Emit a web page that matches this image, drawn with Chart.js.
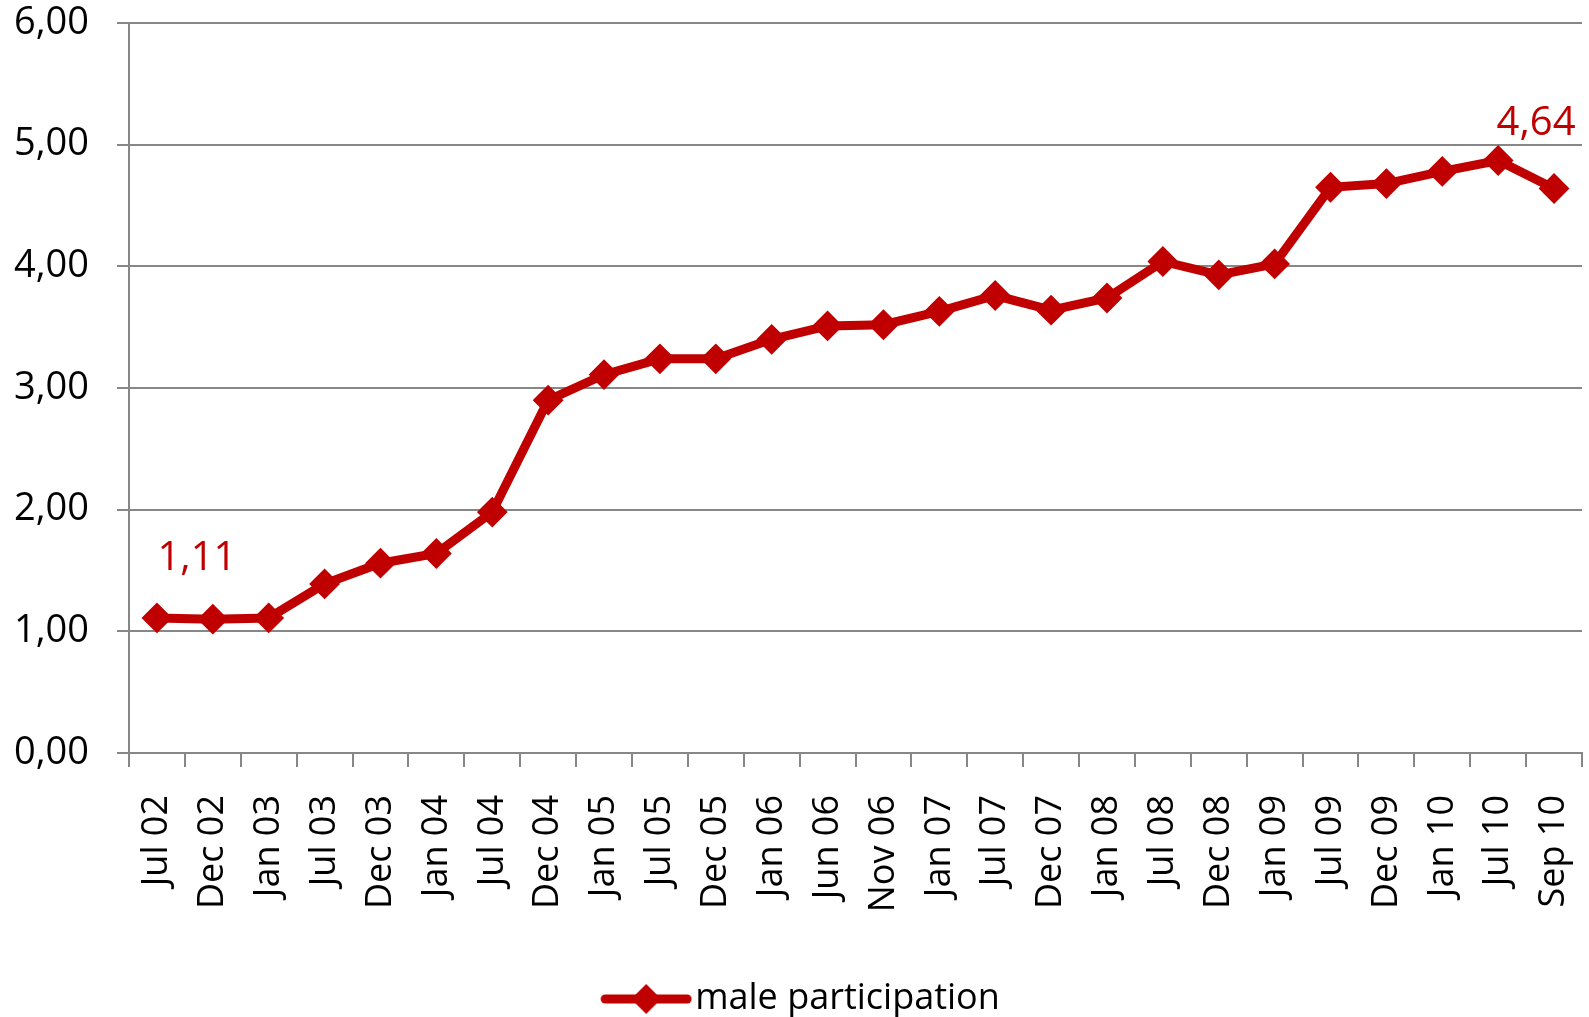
<!DOCTYPE html>
<html>
<head>
<meta charset="utf-8">
<script src="https://cdn.jsdelivr.net/npm/chart.js@4/dist/chart.umd.min.js"></script>
<style>
  html, body { margin: 0; padding: 0; background: #fff; }
  #wrap { width: 1589px; height: 1017px; }
</style>
</head>
<body>
<div id="wrap"><canvas id="myChart"></canvas></div>
<script>
var months = ["Jul 02", "Dec 02", "Jan 03", "Jul 03", "Dec 03", "Jan 04", "Jul 04", "Dec 04", "Jan 05",
    "Jul 05", "Dec 05", "Jan 06", "Jun 06", "Nov 06", "Jan 07", "Jul 07", "Dec 07", "Jan 08", "Jul 08",
    "Dec 08", "Jan 09", "Jul 09", "Dec 09", "Jan 10", "Jul 10", "Sep 10"];
var maleParticipation = [1.11, 1.10, 1.11, 1.39, 1.56, 1.64, 1.98, 2.90, 3.11, 3.24, 3.24, 3.40, 3.51,
    3.52, 3.63, 3.76, 3.64, 3.74, 4.04, 3.93, 4.02, 4.65, 4.68, 4.78, 4.87, 4.64];
var yTicks = [0, 1, 2, 3, 4, 5, 6];

var red = '#C00000';
var gridGray = '#878787';
var fontName = "'Open Sans', 'DejaVu Sans', sans-serif";

function fmt(v) {
    return v.toFixed(2).replace('.', ',');
}

// legend marker: line with a diamond in the middle (drawn on the right part of the canvas)
var marker = document.createElement('canvas');
marker.width = 125;
marker.height = 32;
(function () {
    var c = marker.getContext('2d');
    var x0 = 33;
    c.strokeStyle = red;
    c.lineWidth = 9;
    c.lineCap = 'round';
    c.beginPath();
    c.moveTo(x0 + 5, 16);
    c.lineTo(x0 + 87, 16);
    c.stroke();
    c.fillStyle = red;
    c.beginPath();
    c.moveTo(x0 + 46, 1);
    c.lineTo(x0 + 61, 16);
    c.lineTo(x0 + 46, 31);
    c.lineTo(x0 + 31, 16);
    c.closePath();
    c.fill();
})();

// first and last value labels
var endLabels = {
    id: 'endLabels',
    afterDatasetsDraw: function (chart) {
        var ctx = chart.ctx;
        var pts = chart.getDatasetMeta(0).data;
        var data = chart.data.datasets[0].data;
        var first = pts[0], last = pts[pts.length - 1];
        ctx.save();
        ctx.fillStyle = red;
        ctx.font = '40px ' + fontName;
        ctx.textAlign = 'center';
        ctx.textBaseline = 'middle';
        ctx.fillText(fmt(data[0]), first.x + 40, first.y - 59);
        ctx.fillText(fmt(data[data.length - 1]), last.x - 18, last.y - 65);
        ctx.restore();
    }
};

var ctx = document.getElementById('myChart');
var chart = new Chart(ctx, {
    type: 'line',
    data: {
        labels: months,
        datasets: [{
            label: 'male participation',
            data: maleParticipation,
            borderColor: red,
            backgroundColor: red,
            borderWidth: 9,
            pointStyle: 'rectRot',
            pointRadius: 14,
            pointBorderWidth: 2,
            pointBackgroundColor: red,
            pointBorderColor: red,
            tension: 0
        }]
    },
    options: {
        responsive: true,
        maintainAspectRatio: false,
        animation: false,
        layout: {
            autoPadding: false,
            padding: { left: 0, right: 7, top: 23, bottom: -10 }
        },
        plugins: {
            legend: {
                position: 'bottom',
                labels: {
                    color: '#000',
                    font: { family: fontName, size: 36 },
                    usePointStyle: true,
                    pointStyle: marker,
                    pointStyleWidth: 95,
                    padding: 4
                }
            },
            tooltip: { enabled: false }
        },
        scales: {
            x: {
                offset: true,
                grid: {
                    display: true,
                    offset: true,
                    drawOnChartArea: false,
                    color: gridGray,
                    lineWidth: 2,
                    tickLength: 14
                },
                border: { color: gridGray, width: 2 },
                ticks: {
                    color: '#000',
                    font: { family: fontName, size: 36, lineHeight: 0.6 },
                    minRotation: 90,
                    maxRotation: 90,
                    autoSkip: false,
                    padding: 28
                },
                afterFit: function (scale) {
                    scale.height = 224;
                    scale.paddingLeft = 0;
                    scale.paddingRight = 0;
                }
            },
            y: {
                min: yTicks[0],
                max: yTicks[yTicks.length - 1],
                afterBuildTicks: function (scale) {
                    scale.ticks = yTicks.map(function (v) { return { value: v }; });
                },
                grid: {
                    color: gridGray,
                    lineWidth: 2,
                    tickLength: 12
                },
                border: { color: gridGray, width: 2 },
                ticks: {
                    color: '#000',
                    font: { family: fontName, size: 38 },
                    padding: 28,
                    callback: function (v) { return fmt(v); }
                },
                afterFit: function (scale) {
                    scale.width = 129;
                    scale.paddingTop = 0;
                    scale.paddingBottom = 0;
                }
            }
        }
    },
    plugins: [endLabels]
});
</script>
</body>
</html>
